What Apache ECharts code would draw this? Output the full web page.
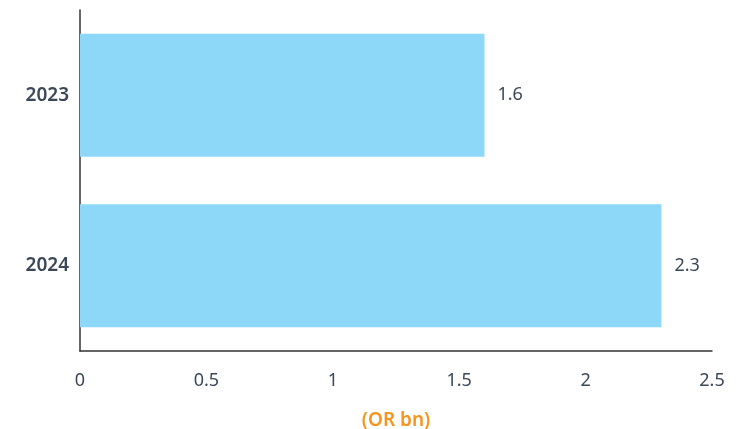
<!DOCTYPE html>
<html>
<head>
<meta charset="utf-8">
<script src="https://cdn.jsdelivr.net/npm/echarts@6/dist/echarts.min.js"></script>
<style>
  html, body { margin: 0; padding: 0; background: #fff; }
  #chart { width: 743px; height: 429px; }
</style>
</head>
<body>
<div id="chart"></div>
<script>
// Years shown on the category axis (bottom to top)
const years = ['2024', '2023'];
// Values in OR billions
const values = [2.3, 1.6];
// Value axis range
const axisMin = 0;
const axisMax = 2.5;
const axisStep = 0.5;
const axisName = '(OR bn)';

const textColor = '#3b4858';
const fontFamily = '"Noto Sans", "Open Sans", sans-serif';

const chart = echarts.init(document.getElementById('chart'));
chart.setOption({
  animation: false,
  grid: { left: 80, right: 31, top: 10, bottom: 78, containLabel: false, outerBoundsMode: 'none' },
  xAxis: {
    type: 'value',
    min: axisMin,
    max: axisMax,
    interval: axisStep,
    name: axisName,
    nameLocation: 'middle',
    nameGap: 60,
    nameTextStyle: { color: '#f7941d', fontSize: 19, fontWeight: 600, fontFamily: fontFamily },
    axisLine: { show: true, lineStyle: { color: '#333', width: 1.5 } },
    axisTick: { show: false },
    splitLine: { show: false },
    axisLabel: { color: textColor, fontSize: 18, margin: 21, fontFamily: fontFamily }
  },
  yAxis: {
    type: 'category',
    data: years,
    axisLine: { show: true, lineStyle: { color: '#333', width: 1.5 } },
    axisTick: { show: false },
    axisLabel: { color: textColor, fontSize: 19, fontWeight: 600, margin: 11, fontFamily: fontFamily }
  },
  series: [{
    type: 'bar',
    data: values,
    barWidth: 123,
    itemStyle: { color: '#8dd8f8' },
    label: {
      show: true,
      position: 'right',
      distance: 13,
      color: textColor,
      fontSize: 18,
      fontFamily: fontFamily
    }
  }]
});
</script>
</body>
</html>
